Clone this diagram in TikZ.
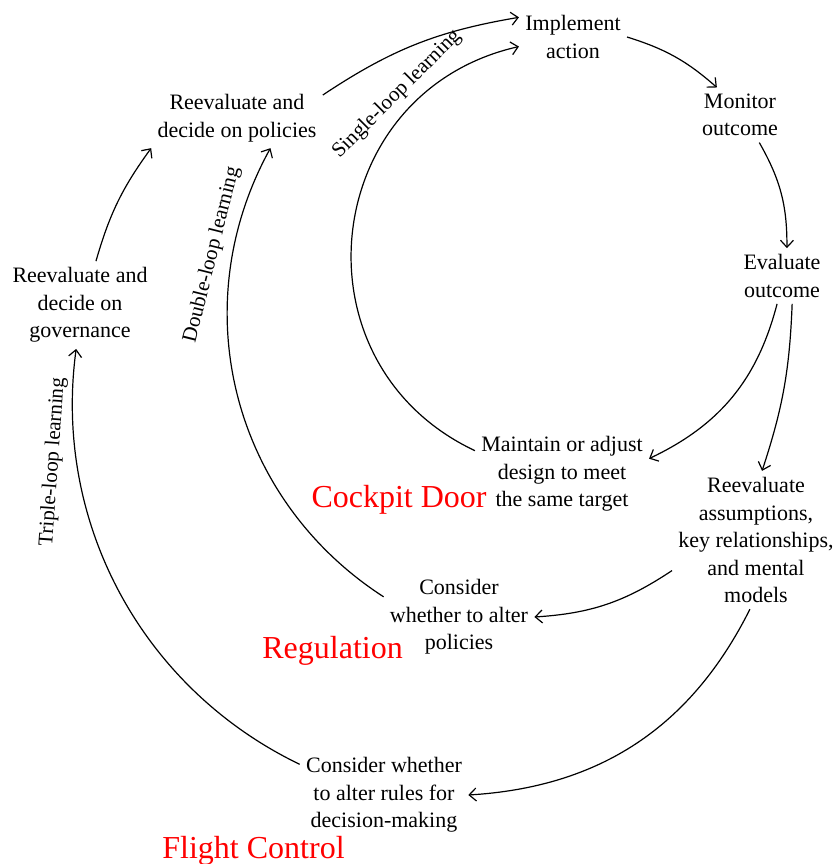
\documentclass[tikz,border=0pt]{standalone}
\usepackage{fontspec}
\setmainfont{Liberation Serif}
\usetikzlibrary{arrows.meta}
\tikzset{
        stepbox/.style={align=center,inner sep=3pt,font=\fontsize{11}{13.75}\selectfont},
        looplabel/.style={inner sep=1pt,font=\fontsize{10.5}{13}\selectfont},
        casename/.style={text=red,inner sep=0pt,font=\fontsize{16}{19}\selectfont},
        flow/.style={-{Straight Barb[length=3.5pt,width=6.5pt]},semithick}
    }

\begin{document}
\begin{tikzpicture}[x=0.5pt,y=-0.5pt]
\useasboundingbox (0,0) rectangle (838,864);
\node[stepbox] (IA) at (573,37) {Implement\\action};
\node[stepbox] (MO) at (740,115) {Monitor\\outcome};
\node[stepbox] (EO) at (782,276) {Evaluate\\outcome};
\node[stepbox] (MA) at (562,474) {Maintain or adjust\\design to meet\\the same target};
\node[stepbox] (RA) at (756,540) {Reevaluate\\assumptions,\\key relationships,\\and mental\\models};
\node[stepbox] (CP) at (459,617) {Consider\\whether to alter\\policies};
\node[stepbox] (CR) at (384,795) {Consider whether\\to alter rules for\\decision-making};
\node[stepbox] (RP) at (237,118) {Reevaluate and\\decide on policies};
\node[stepbox] (RG) at (80,305) {Reevaluate and\\decide on\\governance};

\node[looplabel,rotate=45] (SL) at (397,94) {Single-loop learning};
\node[looplabel,rotate=76] (DL) at (212,255) {Double-loop learning};
\node[looplabel,rotate=86] (TL) at (53,462) {Triple-loop learning};

\node[casename,anchor=base east] (CD) at (487,507) {Cockpit Door};
\node[casename,anchor=base west] (RE) at (262,658) {Regulation};
\node[casename,anchor=base west] (FC) at (162,858) {Flight Control};

\draw[flow] (IA.east) to[bend left=12] (MO.130);
\draw[flow] (MO.-55) to[bend left=15] (EO.80);
\draw[flow] (EO.-100) to[bend left=25] (MA.10);
\draw[flow] (EO.-70) to[bend left=8] (RA.85);
\draw[flow] (RA.200) to[bend left=15] (CP.east);
\draw[flow] (RA.-95) to[bend left=30] (CR.east);
\draw[flow] (MA.165) to[bend left=71,looseness=1.29] (IA.190);
\draw[flow] (CP.165) to[bend left=43] (RP.-42);
\draw[flow] (CR.160) to[bend left=36,looseness=0.95] (RG.-95);
\draw[flow] (RG.70) to[bend left=10] (RP.south west);
\draw[flow] (RP.15) to[bend left=12] (IA.160);

\end{tikzpicture}
\end{document}
